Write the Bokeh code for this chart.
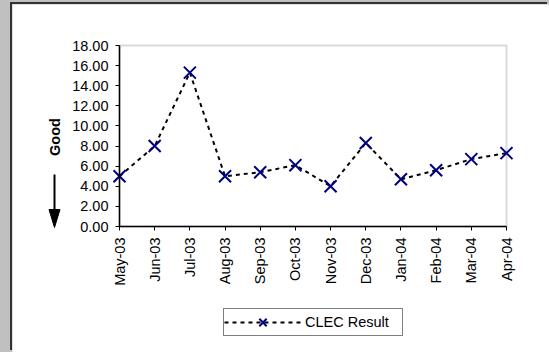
import math
from bokeh.plotting import figure
from bokeh.models import (Range1d, FixedTicker, NumeralTickFormatter, Legend, LegendItem,
                          GlobalInlineStyleSheet, BoxAnnotation)
from bokeh.core.properties import value
from bokeh.embed import file_html
from bokeh.resources import INLINE

months = ["May-03", "Jun-03", "Jul-03", "Aug-03", "Sep-03", "Oct-03",
          "Nov-03", "Dec-03", "Jan-04", "Feb-04", "Mar-04", "Apr-04"]
clec_result = [5.0, 8.0, 15.3, 5.0, 5.4, 6.1, 4.0, 8.3, 4.7, 5.6, 6.7, 7.3]
y_ticks = [0, 2, 4, 6, 8, 10, 12, 14, 16, 18]
series_name = "CLEC Result"
axis_title = "Good"

FONT = "Liberation Sans"
FS = "14.5px"
x_pos = list(range(len(months)))

# layout (pixels inside the white panel)
W, H = 537, 348
PLOT_L, PLOT_W, PLOT_T, PLOT_H = 107, 387, 41, 181
x_lo, x_hi = 0, len(months) - 1
y_lo, y_hi = y_ticks[0], y_ticks[-1]
xs = PLOT_W / (x_hi - x_lo)
ys = PLOT_H / (y_hi - y_lo)
x_start = x_lo - PLOT_L / xs
x_end = x_start + W / xs
y_top = y_hi + PLOT_T / ys
y_bottom = y_top - H / ys


def dx(px):
    return x_start + px / xs


def dy(py):
    return y_top - py / ys


p = figure(width=W, height=H, output_backend="svg", toolbar_location=None,
           x_range=Range1d(x_start, x_end), y_range=Range1d(y_bottom, y_top),
           min_border=0)
p.stylesheets = [GlobalInlineStyleSheet(
    css="html,body{background:#c0c0c0;overflow:hidden;}")]
p.styles = {"margin-left": "12px", "margin-top": "4px",
            "box-shadow": "-2px -2px 0 0 #333333"}
p.background_fill_color = "white"
p.border_fill_color = "white"
p.outline_line_color = None
p.grid.visible = False

# plot-area border (grey top/right, axes draw black left/bottom)
p.add_layout(BoxAnnotation(left=x_lo, right=x_hi, bottom=y_lo, top=y_hi,
                           fill_alpha=0, line_color="#808080", line_width=2,
                           level="underlay"))

p.xaxis.fixed_location = y_lo
p.yaxis.fixed_location = x_lo
p.xaxis.bounds = (x_lo, x_hi)
p.yaxis.bounds = (y_lo, y_hi)
p.xaxis.ticker = FixedTicker(ticks=x_pos)
p.xaxis.major_label_overrides = {i: m for i, m in zip(x_pos, months)}
p.xaxis.major_label_orientation = math.pi / 2
p.yaxis.ticker = FixedTicker(ticks=y_ticks)
p.yaxis.formatter = NumeralTickFormatter(format="0.00")
for ax in (p.xaxis[0], p.yaxis[0]):
    ax.axis_line_color = "black"
    ax.axis_line_width = 1.5
    ax.major_tick_line_color = "black"
    ax.major_tick_out = 4
    ax.major_tick_in = 0
    ax.minor_tick_line_color = None
    ax.major_label_text_font = FONT
    ax.major_label_text_font_size = FS
    ax.major_label_text_color = "black"
    ax.major_label_standoff = 7

# "Good" title with downward arrow, left of the value axis
ax_px = 42
p.text(x=[dx(ax_px)], y=[dy(132.5)], text=[axis_title], angle=math.pi / 2,
       text_align="center", text_baseline="middle",
       text_font=value(FONT), text_font_size=FS, text_font_style="bold", text_color="black")
p.segment(x0=[dx(ax_px)], y0=[dy(170)], x1=[dx(ax_px)], y1=[dy(207)],
          line_color="black", line_width=2)
p.patch(x=[dx(ax_px - 5.5), dx(ax_px + 5.5), dx(ax_px)], y=[dy(205), dy(205), dy(223)],
        fill_color="black", line_color="black", line_width=1)

line = p.line(x_pos, clec_result, line_color="black", line_width=2, line_dash="4 4")
pts = p.scatter(x_pos, clec_result, marker="x", size=17, line_color="#000080", line_width=2)

legend = Legend(items=[LegendItem(label=series_name, renderers=[line, pts])],
                location=(211, H - 332), orientation="horizontal")
legend.padding = 0
legend.margin = 0
legend.glyph_width = 77
legend.glyph_height = 26
legend.label_height = 26
legend.label_width = 97
legend.label_standoff = 4
legend.label_text_font = FONT
legend.label_text_font_size = FS
legend.label_text_color = "black"
legend.border_line_color = "black"
legend.border_line_width = 1
legend.background_fill_color = "white"
legend.background_fill_alpha = 1
p.add_layout(legend, "center")

open("out.html", "w").write(file_html(p, INLINE))
